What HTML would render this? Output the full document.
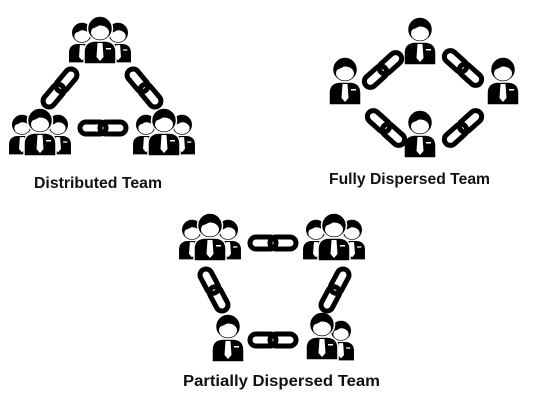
<!DOCTYPE html>
<html><head><meta charset="utf-8"><style>
html,body{margin:0;padding:0;background:#fff;}
svg{display:block;}
text{font-family:"Liberation Sans",sans-serif;font-weight:bold;fill:#111;}
</style></head><body>
<svg width="550" height="400" viewBox="0 0 550 400" xmlns="http://www.w3.org/2000/svg">
<defs>
<g id="p">
  <path d="M-16,47 L-16,35 Q-16,25 -6,24 L6,24 Q16,25 16,35 L16,47 Z" fill="#000" stroke="#fff" stroke-width="1.5"/>
  <path d="M-2.5,26 L2.5,26 L3.5,40 L0,44 L-3.5,40 Z" fill="#fff"/>
  <rect x="6" y="31" width="5" height="1.5" fill="#fff"/>
  <circle cx="0" cy="11.5" r="12.5" fill="#000" stroke="#fff" stroke-width="1.5"/>
  <ellipse cx="0" cy="15.5" rx="9" ry="7" fill="#fff"/>
  <path d="M-10,12 Q-9,2 0,1.5 Q9,2 10,10 Q4,9 1,7 Q-4,11 -10,12 Z" fill="#000"/>
</g>
<g id="g3">
  <use href="#p" transform="translate(-18,6) scale(0.85)"/>
  <use href="#p" transform="translate(18,6) scale(0.85)"/>
  <use href="#p"/>
</g>
<g id="c" fill="none" stroke="#000" stroke-width="5">
  <rect x="-23" y="-6" width="26" height="12" rx="6"/>
  <rect x="-3" y="-6" width="26" height="12" rx="6"/>
</g>
</defs>

<!-- Distributed -->
<use href="#g3" transform="translate(100,17)"/>
<use href="#g3" transform="translate(40,109)"/>
<use href="#g3" transform="translate(164,109)"/>
<use href="#c" transform="translate(60,88) rotate(-50)"/>
<use href="#c" transform="translate(144,88) rotate(50)"/>
<use href="#c" transform="translate(103,128)"/>
<text x="34" y="188" font-size="16" textLength="128" lengthAdjust="spacingAndGlyphs">Distributed Team</text>

<!-- Fully dispersed -->
<use href="#p" transform="translate(420,18)"/>
<use href="#p" transform="translate(345,58)"/>
<use href="#p" transform="translate(503,58)"/>
<use href="#p" transform="translate(420,111)"/>
<use href="#c" transform="translate(383,70) rotate(-42)"/>
<use href="#c" transform="translate(463,68) rotate(42)"/>
<use href="#c" transform="translate(386,128) rotate(42)"/>
<use href="#c" transform="translate(463,128) rotate(-42)"/>
<text x="329" y="184" font-size="16" textLength="161" lengthAdjust="spacingAndGlyphs">Fully Dispersed Team</text>

<!-- Partially dispersed -->
<use href="#g3" transform="translate(210,214)"/>
<use href="#g3" transform="translate(334,214)"/>
<use href="#p" transform="translate(228,315)"/>
<use href="#p" transform="translate(341,321) scale(0.85)"/>
<use href="#p" transform="translate(322,313)"/>
<use href="#c" transform="translate(273,243)"/>
<use href="#c" transform="translate(214,290) rotate(62)"/>
<use href="#c" transform="translate(335,290) rotate(-62)"/>
<use href="#c" transform="translate(273,340)"/>
<text x="183" y="386" font-size="16" textLength="197" lengthAdjust="spacingAndGlyphs">Partially Dispersed Team</text>
</svg>
</body></html>
